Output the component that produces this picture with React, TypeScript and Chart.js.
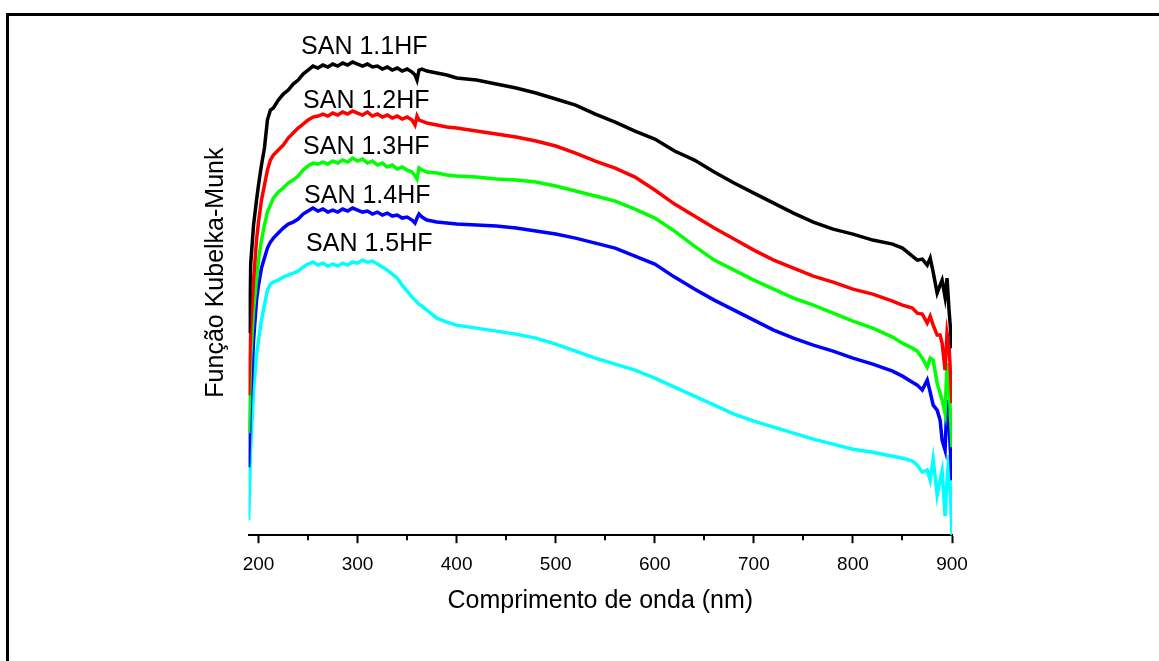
import React, { useEffect, useRef } from "react";
import { Chart, registerables } from "chart.js";

Chart.register(...registerables);

// Wavelength (nm) sampling grid shared by all spectra
const WAVELENGTH = [
  190, 192, 195, 198, 200, 203, 206, 209, 212, 215, 220, 225, 230, 235, 240, 245, 250, 255, 260, 265,
  270, 275, 280, 285, 290, 295, 300, 305, 310, 315, 320, 325, 330, 335, 340, 345, 350, 355, 358, 360,
  362, 365, 370, 380, 390, 400, 420, 440, 460, 480, 500, 520, 540, 560, 580, 600, 620, 640, 660, 680,
  700, 720, 740, 760, 780, 800, 820, 840, 850, 860, 865, 870, 875, 878, 881, 885, 888, 890, 893, 895,
  897, 900,
];

const SAN_11 = [
  2.02, 2.70, 3.10, 3.35, 3.50, 3.70, 3.87, 4.15, 4.25, 4.27, 4.35, 4.41, 4.45, 4.51, 4.55, 4.61, 4.65, 4.69, 4.67, 4.70,
  4.68, 4.71, 4.69, 4.72, 4.70, 4.73, 4.71, 4.69, 4.71, 4.68, 4.69, 4.66, 4.68, 4.65, 4.67, 4.64, 4.66, 4.63, 4.60, 4.55,
  4.65, 4.66, 4.64, 4.62, 4.60, 4.57, 4.55, 4.51, 4.47, 4.42, 4.36, 4.30, 4.21, 4.13, 4.04, 3.96, 3.84, 3.75, 3.63, 3.52,
  3.42, 3.32, 3.22, 3.13, 3.06, 3.01, 2.95, 2.91, 2.87, 2.79, 2.75, 2.76, 2.70, 2.77, 2.63, 2.42, 2.50, 2.55, 2.38, 2.57,
  2.25, 1.87,
];

const SAN_12 = [
  1.40, 2.05, 2.55, 2.95, 3.13, 3.35, 3.50, 3.65, 3.75, 3.80, 3.85, 3.90, 3.97, 4.02, 4.07, 4.11, 4.15, 4.18, 4.19, 4.21,
  4.19, 4.22, 4.20, 4.23, 4.21, 4.24, 4.22, 4.20, 4.23, 4.19, 4.21, 4.18, 4.20, 4.17, 4.19, 4.16, 4.18, 4.15, 4.10, 4.19,
  4.15, 4.14, 4.12, 4.10, 4.08, 4.07, 4.04, 4.01, 3.98, 3.94, 3.89, 3.82, 3.74, 3.67, 3.58, 3.45, 3.31, 3.19, 3.07, 2.96,
  2.85, 2.75, 2.67, 2.59, 2.53, 2.46, 2.41, 2.34, 2.30, 2.27, 2.22, 2.21, 2.12, 2.19, 2.10, 2.00, 2.00, 1.92, 1.65, 2.02,
  1.90, 1.32,
];

const SAN_13 = [
  1.02, 1.75, 2.25, 2.55, 2.75, 2.95, 3.10, 3.23, 3.30, 3.37, 3.43, 3.47, 3.52, 3.55, 3.59, 3.65, 3.69, 3.72, 3.71, 3.73,
  3.71, 3.74, 3.72, 3.75, 3.73, 3.77, 3.74, 3.76, 3.72, 3.74, 3.70, 3.72, 3.68, 3.70, 3.66, 3.68, 3.65, 3.63, 3.59, 3.56,
  3.67, 3.65, 3.63, 3.62, 3.60, 3.59, 3.58, 3.56, 3.55, 3.53, 3.49, 3.44, 3.39, 3.34, 3.26, 3.17, 3.04, 2.89, 2.75, 2.65,
  2.55, 2.46, 2.37, 2.30, 2.22, 2.14, 2.07, 1.98, 1.92, 1.87, 1.84, 1.77, 1.68, 1.77, 1.75, 1.52, 1.42, 1.35, 1.22, 1.72,
  1.50, 0.88,
];

const SAN_14 = [
  0.68, 1.35, 1.95, 2.35, 2.50, 2.67, 2.77, 2.87, 2.93, 2.97, 3.02, 3.07, 3.11, 3.13, 3.16, 3.21, 3.24, 3.27, 3.24, 3.26,
  3.23, 3.25, 3.23, 3.26, 3.24, 3.27, 3.25, 3.23, 3.24, 3.21, 3.23, 3.20, 3.22, 3.19, 3.20, 3.17, 3.18, 3.15, 3.12, 3.17,
  3.21, 3.18, 3.15, 3.13, 3.12, 3.11, 3.10, 3.09, 3.07, 3.04, 3.01, 2.97, 2.92, 2.87, 2.79, 2.71, 2.58, 2.46, 2.35, 2.25,
  2.15, 2.05, 1.97, 1.90, 1.84, 1.77, 1.71, 1.64, 1.59, 1.53, 1.50, 1.45, 1.55, 1.43, 1.30, 1.25, 1.15, 0.95, 0.85, 1.35,
  1.10, 0.55,
];

const SAN_15 = [
  0.15, 0.85, 1.45, 1.80, 1.95, 2.15, 2.30, 2.45, 2.51, 2.53, 2.55, 2.58, 2.60, 2.62, 2.64, 2.68, 2.71, 2.73, 2.70, 2.72,
  2.69, 2.71, 2.69, 2.72, 2.70, 2.73, 2.72, 2.75, 2.73, 2.74, 2.71, 2.68, 2.65, 2.61, 2.57, 2.50, 2.44, 2.38, 2.35, 2.33,
  2.31, 2.29, 2.25, 2.17, 2.13, 2.10, 2.07, 2.04, 2.01, 1.97, 1.91, 1.84, 1.77, 1.71, 1.65, 1.57, 1.48, 1.39, 1.30, 1.21,
  1.14, 1.08, 1.02, 0.96, 0.91, 0.86, 0.83, 0.79, 0.77, 0.74, 0.70, 0.63, 0.65, 0.55, 0.76, 0.40, 0.55, 0.64, 0.19, 0.55,
  0.80, 0.00,
];

const SERIES_NAMES = ["SAN 1.1HF", "SAN 1.2HF", "SAN 1.3HF", "SAN 1.4HF", "SAN 1.5HF"];
const SERIES_VALUES = [SAN_11, SAN_12, SAN_13, SAN_14, SAN_15];
const SERIES_COLORS = ["#000000", "#ff0000", "#00ff00", "#0000ff", "#00ffff"];

// Label anchors (data coordinates)
const LABEL_X = [243, 245, 245, 246, 248];
const LABEL_Y = [4.88, 4.34, 3.875, 3.39, 2.905];

const X_MAJOR_TICKS = [200, 300, 400, 500, 600, 700, 800, 900];
const X_MINOR_TICKS = [250, 350, 450, 550, 650, 750, 850];

const FONT = '"Liberation Sans", Arial, Helvetica, sans-serif';

const labelPlugin = {
  id: "sampleLabels",
  afterDatasetsDraw(chart: any) {
    const { ctx, scales } = chart;
    const x = scales.x;
    const y = scales.y;
    ctx.save();
    ctx.font = `25px ${FONT}`;
    ctx.fillStyle = "#000";
    ctx.textAlign = "left";
    ctx.textBaseline = "middle";
    SERIES_NAMES.forEach((t, i) => {
      ctx.fillText(t, x.getPixelForValue(LABEL_X[i]), y.getPixelForValue(LABEL_Y[i]));
    });
    ctx.restore();
  },
};

const minorTickPlugin = {
  id: "minorTicks",
  afterDraw(chart: any) {
    const { ctx, scales } = chart;
    const x = scales.x;
    ctx.save();
    ctx.strokeStyle = "#000";
    ctx.lineWidth = 2;
    X_MINOR_TICKS.forEach((v) => {
      const px = Math.round(x.getPixelForValue(v));
      ctx.beginPath();
      ctx.moveTo(px, x.top);
      ctx.lineTo(px, x.top + 5);
      ctx.stroke();
    });
    ctx.restore();
  },
};

export default function App() {
  const ref = useRef<HTMLCanvasElement | null>(null);

  useEffect(() => {
    if (!ref.current) return;
    Chart.defaults.font.family = FONT;
    const chart = new Chart(ref.current, {
      type: "line",
      data: {
        datasets: SERIES_NAMES.map((name, i) => ({
          label: name,
          data: WAVELENGTH.map((w, j) => ({ x: w, y: SERIES_VALUES[i][j] })),
          borderColor: SERIES_COLORS[i],
          backgroundColor: SERIES_COLORS[i],
          borderWidth: 3.5,
          pointRadius: 0,
          tension: 0,
          fill: false,
        })),
      },
      options: {
        animation: false,
        responsive: false,
        devicePixelRatio: 1,
        layout: { padding: { left: 201, right: 207, top: 10, bottom: 45 } },
        plugins: {
          legend: { display: false },
          tooltip: { enabled: false },
          title: { display: false },
        },
        scales: {
          x: {
            type: "linear",
            min: 190,
            max: 900,
            afterBuildTicks: (scale: any) => {
              scale.ticks = X_MAJOR_TICKS.map((v) => ({ value: v }));
            },
            grid: {
              display: true,
              drawOnChartArea: false,
              drawTicks: true,
              tickLength: 8,
              tickWidth: 2,
              tickColor: "#000",
            },
            border: { display: true, color: "#000", width: 2 },
            ticks: {
              color: "#000",
              font: { size: 19, family: FONT },
              padding: 10,
              maxRotation: 0,
              autoSkip: false,
            },
            title: {
              display: true,
              text: "Comprimento de onda (nm)",
              color: "#000",
              font: { size: 25, family: FONT },
              padding: { top: 0, bottom: 0 },
            },
          },
          y: {
            type: "linear",
            min: 0,
            max: 5.25,
            grid: { display: false, drawTicks: false },
            border: { display: false },
            ticks: { display: false },
            title: {
              display: true,
              text: "Função Kubelka-Munk",
              color: "#000",
              font: { size: 25, family: FONT },
              padding: { top: 0, bottom: 17.6 },
            },
          },
        },
      },
      plugins: [labelPlugin, minorTickPlugin],
    });
    return () => chart.destroy();
  }, []);

  return (
    <div
      style={{
        position: "fixed",
        left: 0,
        top: 0,
        width: "1159px",
        height: "661px",
        overflow: "hidden",
        background: "#fff",
      }}
    >
      <div
        style={{
          position: "absolute",
          left: "6px",
          top: "13px",
          width: "1400px",
          height: "900px",
          border: "3px solid #000",
          boxSizing: "border-box",
        }}
      />
      <canvas
        ref={ref}
        width={1159}
        height={661}
        style={{ position: "absolute", left: 0, top: 0, width: "1159px", height: "661px" }}
      />
    </div>
  );
}
